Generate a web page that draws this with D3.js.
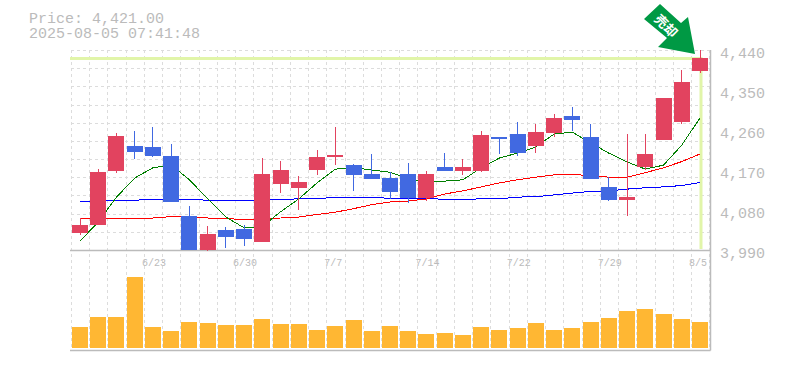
<!DOCTYPE html>
<html>
<head>
<meta charset="utf-8">
<script src="https://cdn.jsdelivr.net/npm/d3@7"></script>
<style>
html, body { margin: 0; padding: 0; background: #fff; }
svg { display: block; }
text { font-family: "Liberation Mono", monospace; fill: #bbb; }
.crisp { shape-rendering: crispEdges; }
</style>
</head>
<body>
<div id="chart"></div>
<script>
const priceLabel = 'Price: 4,421.00';
const timeLabel = '2025-08-05 07:41:48';
const lastPrice = 4421;

const opens = [4028,4046,4168,4224,4222,4201,4066,3990,4035,4037,4008,4139,4129,4170,4199,4181,4161,4152,4161,4107,4177,4168,4168,4244,4251,4224,4253,4292,4244,4132,4102,4177,4238,4278,4393];
const highs = [4062,4172,4253,4258,4267,4228,4089,4044,4042,4046,4197,4190,4156,4215,4267,4183,4206,4165,4186,4168,4208,4195,4258,4244,4278,4274,4296,4312,4274,4154,4251,4251,4332,4395,4440];
const lows = [4024,4046,4164,4195,4199,4098,3990,3988,3994,3999,4008,4118,4080,4159,4181,4123,4150,4105,4096,4101,4168,4159,4165,4206,4201,4208,4244,4258,4150,4100,4066,4170,4238,4274,4389];
const closes = [4046,4165,4246,4210,4201,4098,3990,4026,4019,4015,4161,4170,4143,4199,4204,4159,4150,4121,4107,4161,4168,4177,4249,4240,4208,4256,4287,4283,4150,4102,4109,4206,4332,4368,4421];

const maShort = [4010,4053,4109,4152,4175,4181,4148,4105,4064,4040,4043,4076,4105,4141,4172,4175,4170,4165,4150,4143,4145,4148,4175,4197,4208,4222,4251,4255,4231,4208,4188,4172,4181,4226,4287];
const maMid = [4062,4062,4060,4060,4062,4065,4065,4062,4061,4058,4058,4062,4064,4070,4075,4083,4092,4098,4100,4105,4116,4123,4132,4141,4148,4154,4159,4161,4156,4154,4154,4164,4175,4189,4206];
const maLong = [4100,4100,4101,4102,4104,4104,4104,4102,4102,4102,4102,4104,4105,4105,4109,4109,4109,4106,4106,4106,4104,4104,4105,4105,4109,4110,4114,4118,4122,4123,4127,4130,4132,4135,4142];

const volumes = [213,313,313,713,213,173,263,253,233,233,293,243,243,183,223,283,173,223,173,143,153,133,213,183,203,253,183,203,263,303,373,393,343,293,263];

const priceTicks = [3990,4080,4170,4260,4350,4440];
const dateTicks = [[4,'6/23'],[9,'6/30'],[14,'7/7'],[19,'7/14'],[24,'7/22'],[29,'7/29'],[34,'8/5']];

const width = 785, height = 370;
const plotLeft = 71, plotRight = 709, plotTop = 50, plotMid = 250, plotBottom = 350;
const upColor = '#e2435f', downColor = '#4169e1', gridColor = '#dcdcdc', axisColor = '#bbb';

const svg = d3.select('#chart').append('svg')
  .attr('width', width)
  .attr('height', height);

const idx = d3.range(closes.length);
const scaleX = d3.scalePoint().domain(idx).range([80, 700]);
const scaleY = d3.scaleLinear().domain([3990, 4440]).range([plotMid, plotTop]);
const scaleV = d3.scaleLinear().domain([0, 800]).range([348, 268]);
const bodyW = 16;

// grid
const gridXs = idx.map(i => Math.round(scaleX(i) - 9) + 0.5).concat([plotRight + 0.5]);
const gridYs = d3.range(0, 11).map(i => Math.round(plotTop + i * 200 / 11) + 0.5);

svg.append('g').selectAll('line').data(gridXs).enter().append('line')
  .attr('x1', d => d).attr('x2', d => d)
  .attr('y1', plotTop).attr('y2', plotBottom)
  .style('stroke', gridColor).style('stroke-dasharray', '3,3');

svg.append('g').selectAll('line').data(gridYs).enter().append('line')
  .attr('x1', plotLeft).attr('x2', plotRight)
  .attr('y1', d => d).attr('y2', d => d)
  .style('stroke', gridColor).style('stroke-dasharray', '3,3');

// last price guide
const lastX = scaleX(idx[idx.length - 1]);
svg.append('path')
  .attr('d', `M${plotLeft - 1},${scaleY(lastPrice)}H${lastX + 1}V${plotMid - 1}`)
  .style('fill', 'none')
  .style('stroke', '#e1f5a9')
  .style('stroke-width', 3);

// panel frame
svg.append('path')
  .attr('d', `M${plotLeft - 1},${plotMid + 0.5}H${plotRight + 1.5}M${plotRight + 1.5},${plotTop}V${plotBottom + 0.5}M${plotLeft - 1},${plotBottom + 0.5}H${plotRight + 1.5}`)
  .style('fill', 'none')
  .style('stroke', axisColor)
  .style('stroke-width', 1.5);

// volume
svg.append('g').attr('class', 'crisp').selectAll('rect').data(idx).enter().append('rect')
  .attr('x', i => scaleX(i) - bodyW / 2)
  .attr('width', bodyW)
  .attr('y', i => scaleV(volumes[i]))
  .attr('height', i => scaleV(0) - scaleV(volumes[i]))
  .style('fill', '#ffb733');

// moving averages
const line = d3.line().x((d, i) => scaleX(i)).y(d => scaleY(d));
[[maLong, '#0000ff'], [maMid, '#ff0000'], [maShort, '#007f00']].forEach(([values, color]) => {
  svg.append('path')
    .attr('class', 'crisp')
    .attr('d', line(values))
    .style('fill', 'none')
    .style('stroke', color)
    .style('stroke-width', 1);
});

// candles
const candleColor = i => closes[i] >= opens[i] ? upColor : downColor;

svg.append('g').attr('class', 'crisp').selectAll('line').data(idx).enter().append('line')
  .attr('x1', i => scaleX(i)).attr('x2', i => scaleX(i))
  .attr('y1', i => scaleY(highs[i])).attr('y2', i => scaleY(lows[i]))
  .style('stroke', candleColor);

svg.append('g').attr('class', 'crisp').selectAll('rect').data(idx).enter().append('rect')
  .attr('x', i => scaleX(i) - bodyW / 2)
  .attr('width', bodyW)
  .attr('y', i => scaleY(Math.max(opens[i], closes[i])))
  .attr('height', i => Math.abs(scaleY(opens[i]) - scaleY(closes[i])))
  .style('fill', candleColor);

// labels
svg.selectAll('.price').data(priceTicks).enter().append('text')
  .attr('class', 'price')
  .attr('x', 720)
  .attr('y', d => scaleY(d) + 8)
  .style('font-size', '15px')
  .text(d => d3.format(',')(d));

svg.selectAll('.date').data(dateTicks).enter().append('text')
  .attr('class', 'date')
  .attr('x', d => scaleX(d[0]) - 11)
  .attr('y', plotMid + 16)
  .style('font-size', '10px')
  .text(d => d[1]);

const header = svg.append('text').style('font-size', '15px');
header.append('tspan').attr('x', 29).attr('y', 23).text(priceLabel);
header.append('tspan').attr('x', 29).attr('y', 38).text(timeLabel);

// signal arrow, drawn relative to the last candle
const arrow = svg.append('g')
  .attr('transform', `translate(${lastX - 5},${scaleY(highs[highs.length - 1]) + 4})`);

arrow.append('path')
  .attr('d', 'M0,0L-37,-7L-28,-16L-51,-35L-35,-50L-14,-31L-7,-37Z')
  .style('fill', '#009944');

arrow.append('text')
  .attr('transform', 'translate(-29,-28) rotate(45)')
  .style('text-anchor', 'middle')
  .style('font-family', '"Noto Sans CJK JP"')
  .style('font-size', '13px')
  .style('font-weight', 'bold')
  .style('fill', '#fff')
  .attr('dy', '0.35em')
  .text('売却');
</script>
</body>
</html>
